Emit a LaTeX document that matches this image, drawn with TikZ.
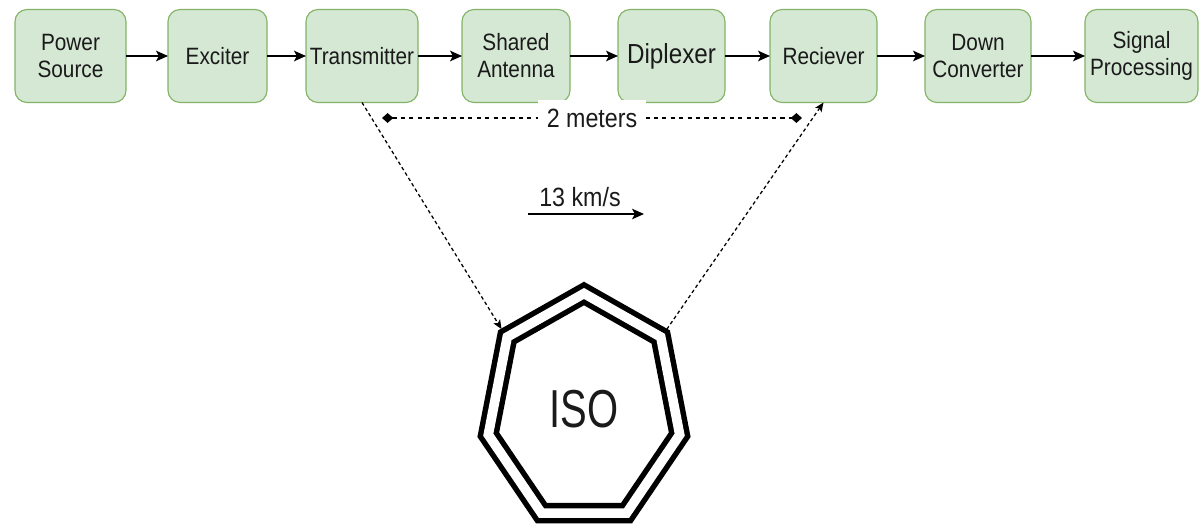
\documentclass[tikz,border=0pt]{standalone}
\usepackage{fontspec}
\setmainfont{Liberation Sans}[FakeStretch=0.88]
\usepackage{tikz}
\usetikzlibrary{shapes,arrows,arrows.meta,positioning,calc}
\definecolor{boxfill}{HTML}{D5E8D4}
\definecolor{boxline}{HTML}{82B366}
\definecolor{txt}{HTML}{1A1A1A}
\tikzstyle{block} = [draw=boxline, fill=boxfill, rectangle, rounded corners=0.3cm, line width=0.8pt, minimum height=2.325cm, inner sep=0pt, outer sep=0pt, align=center, text=txt, font=\fontsize{16.8}{19.2}\selectfont]
\tikzstyle{line} = [draw, -{Stealth[length=8.5pt,width=7.5pt,inset=2pt]}, line width=1.3pt]
\tikzstyle{dotline} = [draw, -{Stealth[length=6.5pt,width=5.5pt,inset=1.5pt]}, line width=0.9pt, dash pattern=on 2.5pt off 2pt]

\begin{document}
\begin{tikzpicture}
    \useasboundingbox (0,0) rectangle (30.075,-13.225);
    \node [block, minimum width=2.775cm] at (1.7625,-1.4) (pow) {Power\\Source};
    \node [block, minimum width=2.475cm, right=1.05cm of pow] (exc) {Exciter};
    \node [block, minimum width=2.8cm, right=0.975cm of exc] (tx) {Transmitter};
    \node [block, minimum width=2.7cm, right=1.1cm of tx] (ant) {Shared\\Antenna};
    \node [block, minimum width=2.675cm, right=1.2cm of ant, font=\fontsize{19.6}{22}\selectfont] (dip) {Diplexer};
    \node [block, minimum width=2.675cm, right=1.125cm of dip] (rx) {Reciever};
    \node [block, minimum width=2.65cm, right=1.2cm of rx] (down) {Down\\Converter};
    \node [block, minimum width=2.825cm, right=1.35cm of down] (sig) {Signal\\Processing};

    \path [line] (pow) -- (exc);
    \path [line] (exc) -- (tx);
    \path [line] (tx) -- (ant);
    \path [line] (ant) -- (dip);
    \path [line] (dip) -- (rx);
    \path [line] (rx) -- (down);
    \path [line] (down) -- (sig);

    % distance between the two antennas
    \coordinate (m1) at (9.55,-2.95);
    \coordinate (m2) at (20.05,-2.95);
    \draw [{Diamond[length=8pt,width=7pt]}-{Diamond[length=8pt,width=7pt]}, line width=0.9pt, dash pattern=on 3pt off 3pt] (m1) -- node [fill=white, inner sep=6pt, font=\fontsize{18.8}{20}\selectfont, text=txt] (dist) {2 meters} (m2);

    % target
    \node [regular polygon, regular polygon sides=7, xscale=0.85, minimum size=5.775cm, draw, line width=3.9pt, double, double distance=6.8pt, font=\fontsize{38}{42}\selectfont, text=txt] at (14.6,-10.225) (iso) {ISO};

    \node [text=txt, font=\fontsize{18.8}{20}\selectfont] at (14.5,-4.925) (speed) {13 km/s};
    \coordinate (v1) at (13.2,-5.35);
    \coordinate (v2) at (16.1,-5.35);
    \path [line, line width=1pt] (v1) -- (v2);

    \path [dotline, shorten >=5pt] (tx.south) -- (iso.corner 2);
    \path [dotline, shorten <=5pt] (iso.corner 7) -- (rx.south);
\end{tikzpicture}
\end{document}
